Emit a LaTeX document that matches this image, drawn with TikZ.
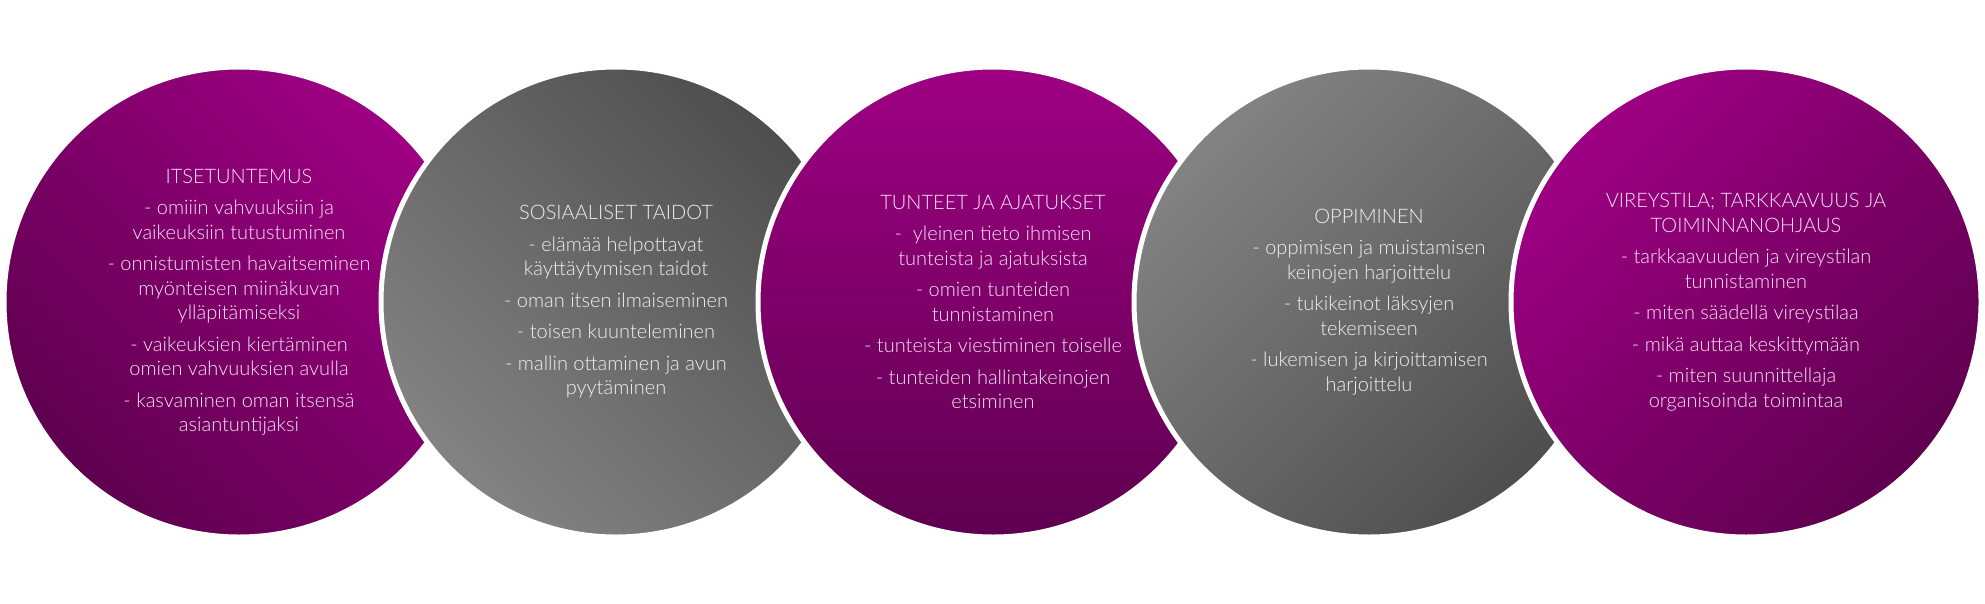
\documentclass[tikz,border=0pt]{standalone}
\usepackage{fontspec}
\setmainfont{Lato}[UprightFont={* Light}]
\definecolor{plight}{HTML}{9E0083}
\definecolor{pdark}{HTML}{5E004F}
\definecolor{glight}{HTML}{838383}
\definecolor{gdark}{HTML}{4E4E4E}
\definecolor{ptext}{HTML}{F8E4F3}
\definecolor{gtext}{HTML}{F0F0F0}
\tikzset{
  disc/.style={circle, minimum size=470pt, inner sep=0pt, draw=white, line width=5pt},
  purpledisc/.style={disc, top color=plight, bottom color=pdark, shading angle=#1},
  greydisc/.style={disc, top color=glight, bottom color=gdark, shading angle=#1},
  label/.style={align=center, font=\fontsize{20pt}{24.5pt}\selectfont, inner sep=0pt},
  plabel/.style={label, text=ptext},
  glabel/.style={label, text=gtext}
}
\newcommand{\gap}{\\[7pt]}
\begin{document}
\begin{tikzpicture}[x=1pt, y=-1pt]
\useasboundingbox (0,0) rectangle (1985,604);
\node[purpledisc=-45] (c1) at (239,302) {};
\node[greydisc=135] (c2) at (616,302) {};
\node[purpledisc=0] (c3) at (993,302) {};
\node[greydisc=45] (c4) at (1369,302) {};
\node[purpledisc=45] (c5) at (1746,302) {};

\node[plabel] (t1) at (c1.center) {ITSETUNTEMUS\gap
- omiiin vahvuuksiin ja\\vaikeuksiin tutustuminen\gap
- onnistumisten havaitseminen\\myönteisen miinäkuvan\\ylläpitämiseksi\gap
- vaikeuksien kiertäminen\\omien vahvuuksien avulla\gap
- kasvaminen oman itsensä\\asiantuntijaksi};

\node[glabel] (t2) at (c2.center) {SOSIAALISET TAIDOT\gap
- elämää helpottavat\\käyttäytymisen taidot\gap
- oman itsen ilmaiseminen\gap
- toisen kuunteleminen\gap
- mallin ottaminen ja avun\\pyytäminen};

\node[plabel] (t3) at (c3.center) {TUNTEET JA AJATUKSET\gap
-\ \ yleinen tieto ihmisen\\tunteista ja ajatuksista\gap
- omien tunteiden\\tunnistaminen\gap
- tunteista viestiminen toiselle\gap
- tunteiden hallintakeinojen\\etsiminen};

\node[glabel] (t4) at (c4.center) {OPPIMINEN\gap
- oppimisen ja muistamisen\\keinojen harjoittelu\gap
- tukikeinot läksyjen\\tekemiseen\gap
- lukemisen ja kirjoittamisen\\harjoittelu};

\node[plabel] (t5) at (c5.center) {VIREYSTILA; TARKKAAVUUS JA\\TOIMINNANOHJAUS\gap
- tarkkaavuuden ja vireystilan\\tunnistaminen\gap
- miten säädellä vireystilaa\gap
- mikä auttaa keskittymään\gap
- miten suunnittellaja\\organisoinda toimintaa};
\end{tikzpicture}
\end{document}
